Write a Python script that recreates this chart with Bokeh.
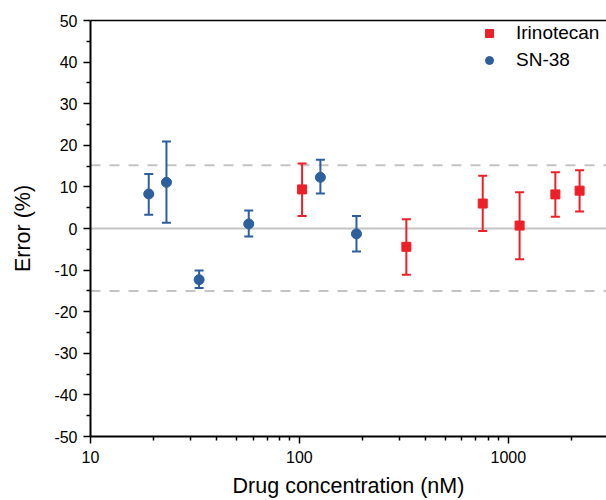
from bokeh.plotting import figure
from bokeh.models import FixedTicker, Span, Legend, LegendItem, LogAxis, ColumnDataSource
from bokeh.embed import file_html
from bokeh.resources import INLINE

# ---- data ----
irino_conc = [103, 325, 754, 1132, 1679, 2193]
irino_err = [9.4, -4.4, 6.0, 0.7, 8.2, 9.1]
irino_upper = [15.6, 2.2, 12.7, 8.7, 13.5, 14.0]
irino_lower = [3.0, -11.1, -0.6, -7.4, 2.8, 4.1]

sn38_conc = [19.0, 23.1, 33.1, 57.2, 126, 187.5]
sn38_err = [8.3, 11.1, -12.3, 1.1, 12.3, -1.3]
sn38_upper = [13.1, 20.9, -10.1, 4.3, 16.5, 3.0]
sn38_lower = [3.3, 1.4, -14.3, -1.9, 8.4, -5.5]

zero_line = 0
limit_lines = [15.2, -15.0]

x_major = [10, 100, 1000]
x_major_labels = ["10", "100", "1000"]
x_minor = [20, 30, 40, 50, 60, 70, 80, 90, 200, 300, 400, 500, 600, 700, 800, 900, 2000]
y_major = [-50, -40, -30, -20, -10, 0, 10, 20, 30, 40, 50]
y_major_labels = ["-50", "-40", "-30", "-20", "-10", "0", "10", "20", "30", "40", "50"]
y_minor = [-45, -35, -25, -15, -5, 5, 15, 25, 35, 45]

RED = "#ed2027"
BLUE = "#2d5e9e"
GRAY = "#c4c4c4"
FONT = "Liberation Sans"

p = figure(width=606, height=500, x_axis_type="log", x_range=(10, 2950), y_range=(-50, 50),
           output_backend="svg", toolbar_location=None,
           min_border_left=90, min_border_right=0, min_border_top=20, min_border_bottom=64)
p.outline_line_color = None
p.grid.visible = False
p.background_fill_color = "white"
p.border_fill_color = "white"

# reference lines
p.add_layout(Span(location=zero_line, dimension="width", line_color=GRAY, line_width=2, level="underlay"))
for v in limit_lines:
    p.add_layout(Span(location=v, dimension="width", line_color=GRAY, line_width=2,
                      line_dash="10 9", level="underlay"))

# error bars + markers
def series(conc, err, up, lo, color, marker, size):
    src = ColumnDataSource(dict(x=conc, y=err, up=up, lo=lo))
    p.segment(x0="x", y0="lo", x1="x", y1="up", source=src, line_color=color, line_width=2)
    p.scatter(x="x", y="up", source=src, marker="dash", size=9, line_color=color, line_width=2)
    p.scatter(x="x", y="lo", source=src, marker="dash", size=9, line_color=color, line_width=2)
    r = p.scatter(x="x", y="y", source=src, marker=marker, size=size,
                  fill_color=color, line_color=color, line_width=1)
    return r

r_irino = series(irino_conc, irino_err, irino_upper, irino_lower, RED, "square", 9)
r_sn38 = series(sn38_conc, sn38_err, sn38_upper, sn38_lower, BLUE, "circle", 10)

# axes
xa = p.xaxis[0]
xa.ticker = FixedTicker(ticks=x_major, minor_ticks=x_minor)
xa.major_label_overrides = dict(zip(x_major, x_major_labels))
ya = p.yaxis[0]
ya.ticker = FixedTicker(ticks=y_major, minor_ticks=y_minor)
ya.major_label_overrides = dict(zip(y_major, y_major_labels))
for ax in (xa, ya):
    ax.axis_line_width = 2
    ax.axis_line_color = "black"
    ax.major_tick_line_width = 1.5
    ax.minor_tick_line_width = 1.5
    ax.major_tick_out = 7
    ax.major_tick_in = 0
    ax.minor_tick_out = 4
    ax.minor_tick_in = 0
    ax.major_label_text_font = FONT
    ax.major_label_text_font_size = "16px"
    ax.major_label_text_color = "black"
    ax.axis_label_text_font = FONT
    ax.axis_label_text_font_size = "21.5px"
    ax.axis_label_text_font_style = "normal"
    ax.axis_label_text_color = "black"
xa.axis_label = "Drug concentration (nM)"
ya.axis_label = "Error (%)"
xa.major_label_standoff = 7
xa.axis_label_standoff = 8
ya.major_label_standoff = 6
ya.axis_label_standoff = 16

top = LogAxis(ticker=FixedTicker(ticks=[]), axis_line_width=1.5, axis_line_color="black",
              major_tick_line_color=None, minor_tick_line_color=None)
p.add_layout(top, "above")

legend = Legend(items=[LegendItem(label="Irinotecan", renderers=[r_irino]),
                       LegendItem(label="SN-38", renderers=[r_sn38])],
                location=(389, 365), margin=0, padding=3, spacing=5,
                label_standoff=17, glyph_width=20, glyph_height=20, label_height=20,
                label_text_font=FONT, label_text_font_size="19px", label_text_color="black",
                border_line_color=None, background_fill_alpha=0)
p.add_layout(legend)

open("out.html", "w").write(file_html(p, INLINE))
